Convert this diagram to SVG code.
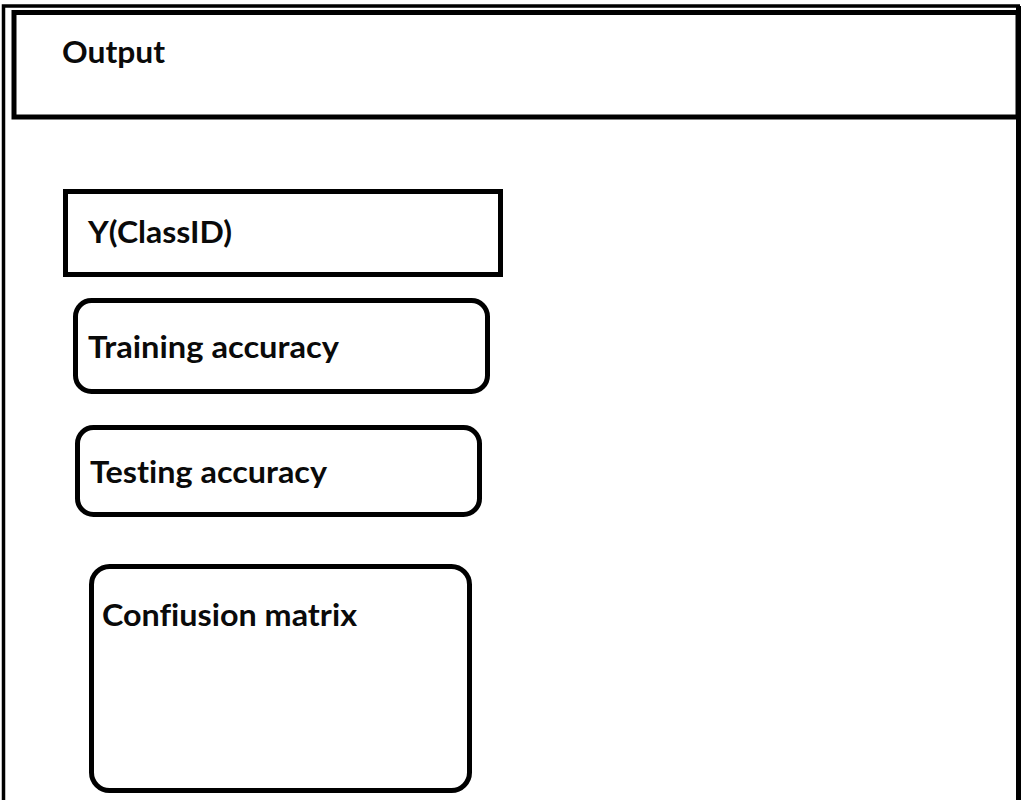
<svg xmlns="http://www.w3.org/2000/svg" width="1024" height="800" viewBox="0 0 1024 800">
<style>
.box{fill:none;stroke:#000;stroke-width:5}
.lbl{font-family:Lato,"Open Sans","Liberation Sans",sans-serif;font-weight:bold;font-size:30px;fill:#0a0a0a;font-variant-ligatures:none}
</style>
<rect width="1024" height="800" fill="#fff"/>
<g id="frame">
<path d="M3.5,800 V6 H1020" fill="none" stroke="#000" stroke-width="3.5"/>
<line x1="1018.5" y1="6" x2="1018.5" y2="800" stroke="#000" stroke-width="5"/>
</g>
<g id="output">
<rect class="box" x="14" y="12.5" width="1004" height="104.5"/>
<text class="lbl" x="62" y="63" textLength="103" lengthAdjust="spacingAndGlyphs">Output</text>
</g>
<g id="yclass">
<rect class="box" x="65.5" y="191.5" width="435" height="83"/>
<text class="lbl" x="88" y="243" textLength="144" lengthAdjust="spacingAndGlyphs">Y(ClassID)</text>
</g>
<g id="training">
<rect class="box" x="75.5" y="300.5" width="412" height="91" rx="16"/>
<text class="lbl" x="88" y="358" textLength="251" lengthAdjust="spacingAndGlyphs">Training accuracy</text>
</g>
<g id="testing">
<rect class="box" x="77.5" y="427.5" width="402" height="87" rx="16"/>
<text class="lbl" x="90" y="483" textLength="237" lengthAdjust="spacingAndGlyphs">Testing accuracy</text>
</g>
<g id="confusion">
<rect class="box" x="91.5" y="566.5" width="378" height="224" rx="18"/>
<text class="lbl" x="102" y="626" textLength="255" lengthAdjust="spacingAndGlyphs">Confiusion matrix</text>
</g>
<g id="connectors"/>
</svg>
